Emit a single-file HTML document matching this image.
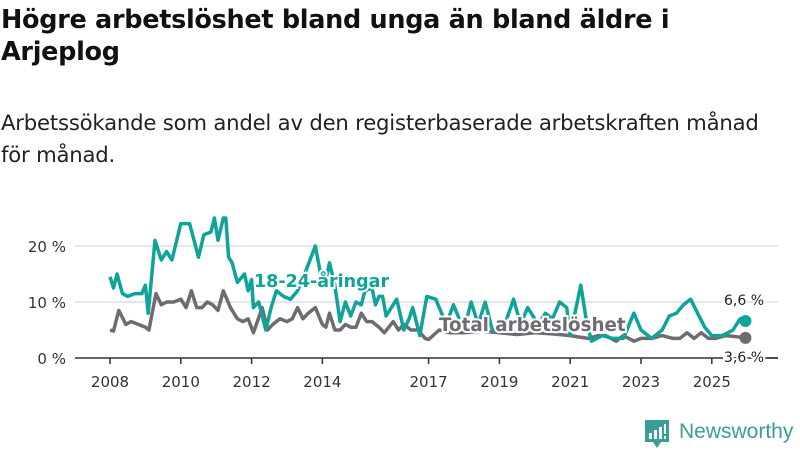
<!DOCTYPE html>
<html><head><meta charset="utf-8">
<style>
body{margin:0;background:#fff;width:800px;height:450px;overflow:hidden;font-family:"DejaVu Sans",sans-serif;}
#title{position:absolute;left:1px;top:4px;font-size:25.5px;font-weight:bold;line-height:32px;color:#111;margin:0;white-space:nowrap;letter-spacing:-0.3px;}
#sub{position:absolute;left:1px;top:107px;font-size:21.2px;line-height:32px;color:#222;margin:0;white-space:nowrap;letter-spacing:-0.2px;}
svg{position:absolute;left:0;top:0;}
</style></head><body>
<h1 id="title">Högre arbetslöshet bland unga än bland äldre i<br>Arjeplog</h1>
<p id="sub">Arbetssökande som andel av den registerbaserade arbetskraften månad<br>för månad.</p>
<svg id="chart" width="800" height="450"></svg>
<script>
const yTicks=[0,10,20];
const xTicks=[2008,2010,2012,2014,2017,2019,2021,2023,2025];
const tYouth=[2008,2008.1,2008.2,2008.35,2008.5,2008.7,2008.9,2009.0,2009.08,2009.27,2009.45,2009.6,2009.75,2010.0,2010.25,2010.5,2010.65,2010.85,2010.95,2011.05,2011.2,2011.27,2011.35,2011.45,2011.6,2011.8,2011.9,2012.0,2012.05,2012.2,2012.4,2012.55,2012.7,2012.9,2013.1,2013.3,2013.5,2013.8,2013.95,2014.1,2014.2,2014.35,2014.5,2014.65,2014.8,2014.95,2015.1,2015.2,2015.4,2015.5,2015.6,2015.7,2015.8,2016.1,2016.3,2016.45,2016.55,2016.75,2016.95,2017.2,2017.5,2017.7,2018.0,2018.2,2018.4,2018.6,2018.8,2019.1,2019.4,2019.6,2019.8,2020.1,2020.3,2020.5,2020.7,2020.9,2021.0,2021.3,2021.45,2021.6,2021.9,2022.2,2022.5,2022.8,2023.0,2023.3,2023.6,2023.8,2024.0,2024.2,2024.4,2024.6,2024.8,2025.0,2025.3,2025.6,2025.8,2025.95];
const youth=[14.5,12.5,15,11.5,11,11.5,11.5,13,8,21,17.5,19,17.5,24,24,18,22,22.5,25,21,25,25,18,17,13.5,15,12,14,9,10,5,9,12,11,10.5,12,15,20,15,14,17,13,6.5,10,7.5,10,9.5,12,12.5,9.5,11,11,7.5,10.5,5,7,9,4,11,10.5,6,9.5,5,10,6,10,5,5,10.5,6,9,6,8,7,10,9,4,13,7,3,4,3.5,3.5,8,5,3.5,5,7.5,8,9.5,10.5,8,5.5,4,4,5,7,6.6];
const tTotal=[2008,2008.1,2008.25,2008.45,2008.6,2008.8,2009.0,2009.1,2009.3,2009.45,2009.6,2009.8,2010.0,2010.15,2010.3,2010.45,2010.6,2010.75,2010.9,2011.05,2011.2,2011.4,2011.6,2011.75,2011.9,2012.05,2012.3,2012.45,2012.6,2012.8,2013.0,2013.15,2013.3,2013.45,2013.6,2013.8,2014.0,2014.1,2014.2,2014.35,2014.5,2014.65,2014.8,2014.95,2015.1,2015.25,2015.4,2015.5,2015.6,2015.75,2016.0,2016.15,2016.3,2016.5,2016.7,2016.9,2017.0,2017.3,2017.6,2018.0,2018.5,2019.0,2019.5,2020.0,2020.5,2021.0,2021.5,2021.8,2022.0,2022.3,2022.5,2022.8,2023.0,2023.3,2023.6,2023.9,2024.1,2024.3,2024.5,2024.7,2024.9,2025.1,2025.4,2025.7,2025.95];
const total=[5,4.8,8.5,6,6.5,6,5.5,5,11.5,9.5,10,10,10.5,9,12,9,9,10,9.5,8.5,12,9,7,6.5,7,4.5,9,5,6,7,6.5,7,9,7,8,9,6,5.5,8,5,5,6,5.5,5.5,8,6.5,6.5,6,5.5,4.5,6.5,5,6,5,5,3.5,3.3,5,4.5,4.5,4.8,4.5,4.2,4.5,4.3,4,3.5,4,4,3,4,3,3.5,3.5,4,3.5,3.5,4.5,3.5,4.5,3.5,3.5,4,3.8,3.6];
const NS='http://www.w3.org/2000/svg';
const svg=document.getElementById('chart');
const X0=2008,PX0=110,PPY=35.4,Y0=358,PPV=5.6;
function xs(t){return PX0+(t-X0)*PPY;}
function ys(v){return Y0-v*PPV;}
function mk(tag,attrs){const e=document.createElementNS(NS,tag);for(const k in attrs)e.setAttribute(k,attrs[k]);svg.appendChild(e);return e;}
yTicks.forEach(v=>{
  if(v>0){const g=mk('line',{x1:75,x2:778,y1:ys(v),y2:ys(v),stroke:'#ddd','stroke-width':1.5});
  
  }
  const t=mk('text',{x:66,y:ys(v)+6,'text-anchor':'end','font-size':15,fill:'#333'});
  t.textContent=v+' %';
  
  
});
const ax=mk('line',{x1:75,x2:778,y1:Y0,y2:Y0,stroke:'#333','stroke-width':1.5});


xTicks.forEach(y=>{
  const l=mk('line',{x1:xs(y),x2:xs(y),y1:Y0,y2:Y0+6,stroke:'#333','stroke-width':1.5});
  
  
  const t=mk('text',{x:xs(y),y:387,'text-anchor':'middle','font-size':15,fill:'#333'});
  t.textContent=y;
  
  
});
function line(ts,vs,col,name){
  const d=ts.map((t,i)=>(i?'L':'M')+xs(t).toFixed(1)+','+ys(vs[i]).toFixed(1)).join('');
  const p=mk('path',{d:d,fill:'none',stroke:col,'stroke-width':3.5,'stroke-linejoin':'round'});
  
  
  const c=mk('circle',{cx:xs(ts[ts.length-1]),cy:ys(vs[vs.length-1]),r:6,fill:col});
  
  
}
line(tTotal,total,'#6e6c72','total-line');
line(tYouth,youth,'#0fa39a','youth-line');
function lab(x,y,txt,col,size,bold,name,halo){
  const t=mk('text',{x:x,y:y,'font-size':size,fill:col,'font-weight':bold?'bold':'normal'});
  if(halo){t.setAttribute('stroke','#fff');t.setAttribute('stroke-width',4);t.setAttribute('paint-order','stroke');}
  t.textContent=txt;
  
  
}
lab(254,287,'18-24-åringar','#0fa39a',17.5,true,'youth-series-label',true);
lab(439,331,'Total arbetslöshet','#6e6c72',18.3,true,'total-series-label',true);
lab(724,305,'6,6 %','#222',14,false,'youth-end-value',true);
lab(724,362,'3,6 %','#222',14,false,'total-end-value',true);
const dl=mk('line',{x1:767,x2:778,y1:Y0,y2:Y0,stroke:'#333','stroke-width':1.5});


</script>
<div style="position:absolute;left:645px;top:420px;height:28px;">
<svg width="26" height="30" style="position:absolute;left:0;top:0">
<path d="M0,0H24V22H16L12,28L8,22H0Z" fill="#3a9e97"/>
<rect x="4" y="13" width="3" height="6" fill="#fff"/><rect x="9" y="10" width="3" height="9" fill="#fff"/><rect x="14" y="7" width="3" height="12" fill="#fff"/><rect x="19" y="4" width="2" height="10" fill="#fff"/><rect x="19" y="16" width="2" height="3" fill="#fff"/>
</svg>
<span style="position:absolute;left:34px;top:0;font-family:'Liberation Sans',sans-serif;font-size:21px;color:#3a9e97;white-space:nowrap;">Newsworthy</span>
</div>
</body></html>
